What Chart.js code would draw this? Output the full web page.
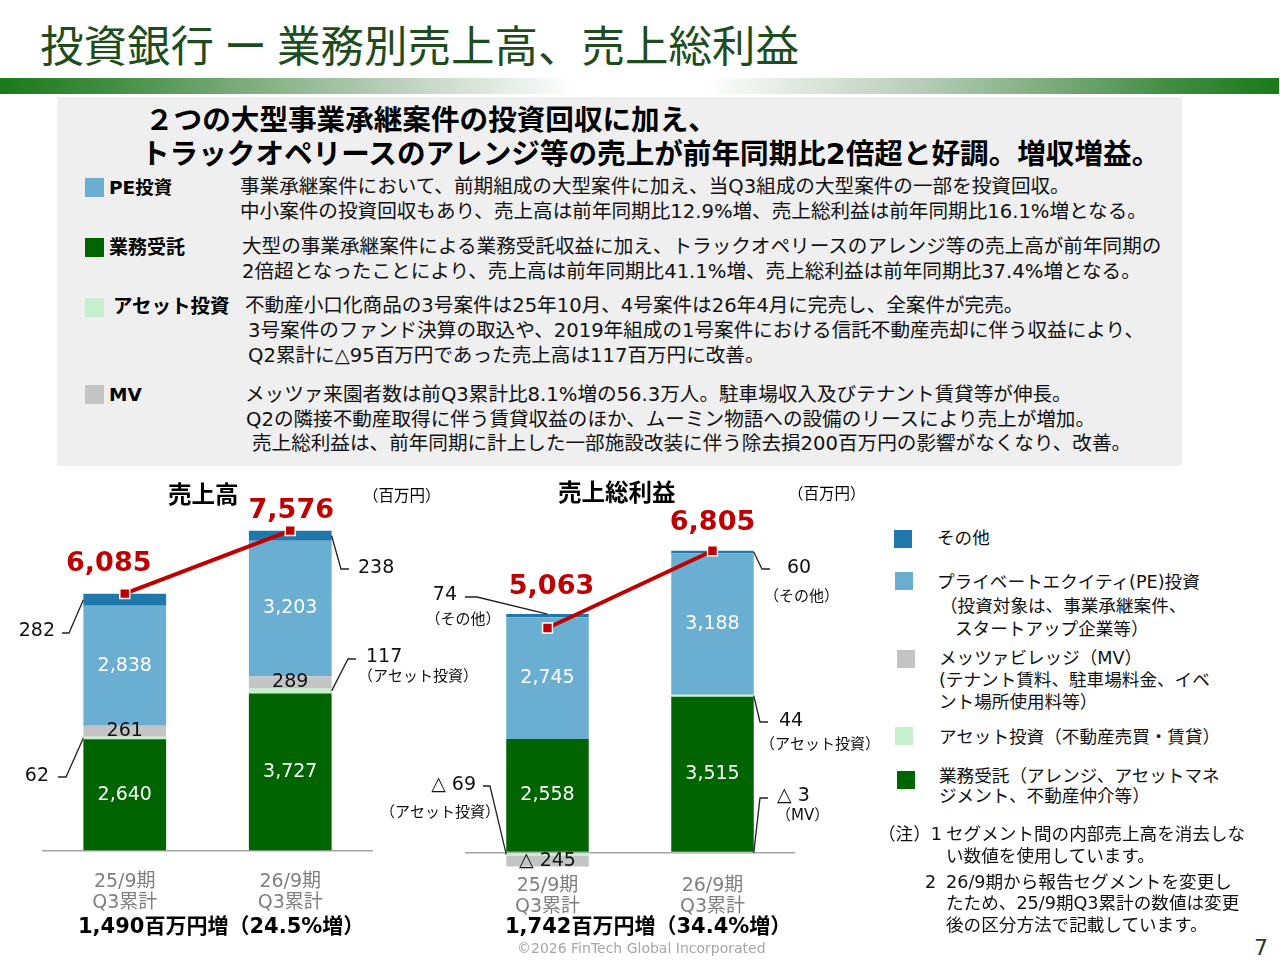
<!DOCTYPE html>
<html lang="ja">
<head>
<meta charset="utf-8">
<title>投資銀行 ー 業務別売上高、売上総利益</title>
<script src="https://cdn.jsdelivr.net/npm/chart.js@4.4.1/dist/chart.umd.min.js"></script>
<style>
  html, body { margin: 0; padding: 0; background: #fff; }
  #page { position: relative; width: 1280px; height: 960px; overflow: hidden;
    font-family: "DejaVu Sans", "Noto Sans CJK JP", sans-serif; color: #000; }
  .t { position: absolute; white-space: nowrap; }
  .b { font-weight: bold; }
  .body { font-size: 19.6px; line-height: 25px; color: #111; }
  .lg { font-size: 17.6px; line-height: 22px; color: #111; }
  .sq { position: absolute; width: 19px; height: 19px; }
  canvas { position: absolute; }
</style>
</head>
<body>
<div id="page">
  <!-- header -->
  <div class="t" style="left:40px; top:17px; font-size:43.5px; line-height:54px; color:#1d4d1d; font-family:'Noto Sans CJK JP',sans-serif;">投資銀行 ー 業務別売上高、売上総利益</div>
  <div style="position:absolute; left:0; top:78px; width:1279px; height:16px;
    background:linear-gradient(to right,#1a7a1a 0%,#3f8c3f 8%,#b7cdb7 30%,#ffffff 45%,#ffffff 55%,#b7cdb7 72%,#3f8c3f 92%,#1a7a1a 100%);"></div>

  <!-- summary panel -->
  <div style="position:absolute; left:57px; top:97px; width:1125px; height:369px; background:#efefef;"></div>
  <div class="t b" style="left:145px; top:101px; font-size:28.6px; line-height:38px;">２つの大型事業承継案件の投資回収に加え、</div>
  <div class="t b" style="left:141px; top:135px; font-size:28.6px; line-height:38px;">トラックオペリースのアレンジ等の売上が前年同期比2倍超と好調。増収増益。</div>

  <div class="sq" style="left:85px; top:178px; background:#6aafd2;"></div>
  <div class="t b" style="left:109px; top:175px; font-size:18.5px; line-height:25px;">PE投資</div>
  <div class="t body" style="left:240px; top:174px;">事業承継案件において、前期組成の大型案件に加え、当Q3組成の大型案件の一部を投資回収。</div>
  <div class="t body" style="left:240px; top:199px;">中小案件の投資回収もあり、売上高は前年同期比12.9%増、売上総利益は前年同期比16.1%増となる。</div>

  <div class="sq" style="left:85px; top:238px; background:#006400;"></div>
  <div class="t b" style="left:109px; top:235px; font-size:19px; line-height:25px;">業務受託</div>
  <div class="t body" style="left:242px; top:234px;">大型の事業承継案件による業務受託収益に加え、トラックオペリースのアレンジ等の売上高が前年同期の</div>
  <div class="t body" style="left:242px; top:259px;">2倍超となったことにより、売上高は前年同期比41.1%増、売上総利益は前年同期比37.4%増となる。</div>

  <div class="sq" style="left:85px; top:298px; background:#c6efce;"></div>
  <div class="t b" style="left:113px; top:294px; font-size:19.5px; line-height:25px;">アセット投資</div>
  <div class="t body" style="left:245px; top:293px;">不動産小口化商品の3号案件は25年10月、4号案件は26年4月に完売し、全案件が完売。</div>
  <div class="t body" style="left:248px; top:318px;">3号案件のファンド決算の取込や、2019年組成の1号案件における信託不動産売却に伴う収益により、</div>
  <div class="t body" style="left:248px; top:343px;">Q2累計に△95百万円であった売上高は117百万円に改善。</div>

  <div class="sq" style="left:85px; top:385px; background:#c4c4c4;"></div>
  <div class="t b" style="left:109px; top:382px; font-size:18.5px; line-height:25px;">MV</div>
  <div class="t body" style="left:245px; top:382px;">メッツァ来園者数は前Q3累計比8.1%増の56.3万人。駐車場収入及びテナント賃貸等が伸長。</div>
  <div class="t body" style="left:246px; top:407px;">Q2の隣接不動産取得に伴う賃貸収益のほか、ムーミン物語への設備のリースにより売上が増加。</div>
  <div class="t body" style="left:252px; top:431px;">売上総利益は、前年同期に計上した一部施設改装に伴う除去損200百万円の影響がなくなり、改善。</div>

  <!-- charts -->
  <canvas id="salesChart" width="470" height="441" style="left:0; top:480px;"></canvas>
  <canvas id="profitChart" width="500" height="438" style="left:380px; top:480px;"></canvas>

  <div class="t b" style="left:168px; top:480px; font-size:23.5px; line-height:30px;">売上高</div>
  <div class="t" style="left:363px; top:485px; font-size:15.5px; line-height:22px;">（百万円）</div>
  <div class="t b" style="left:558px; top:478px; font-size:23.5px; line-height:30px;">売上総利益</div>
  <div class="t" style="left:788px; top:483px; font-size:15.5px; line-height:22px;">（百万円）</div>

  <div class="t b" style="left:78px; top:912px; font-size:21px; line-height:28px;">1,490百万円増（24.5%増）</div>
  <div class="t b" style="left:505px; top:912px; font-size:21px; line-height:28px;">1,742百万円増（34.4%増）</div>
  <div class="t" style="left:517px; top:939px; font-size:14px; line-height:18px; color:#a6a6a6;">©2026 FinTech Global Incorporated</div>
  <div class="t" style="left:1254px; top:935px; font-size:22px; line-height:26px; color:#333;">7</div>

  <!-- legend -->
  <div class="sq" style="left:894px; top:530px; width:18px; height:18px; background:#1f77ab;"></div>
  <div class="t lg" style="left:937px; top:527px;">その他</div>
  <div class="sq" style="left:895px; top:572px; width:18px; height:18px; background:#6aafd2;"></div>
  <div class="t lg" style="left:937px; top:571px;">プライベートエクイティ(PE)投資</div>
  <div class="t lg" style="left:940px; top:595px;">（投資対象は、事業承継案件、</div>
  <div class="t lg" style="left:955px; top:618px;">スタートアップ企業等）</div>
  <div class="sq" style="left:897px; top:650px; width:18px; height:18px; background:#c4c4c4;"></div>
  <div class="t lg" style="left:939px; top:647px;">メッツァビレッジ（MV）</div>
  <div class="t lg" style="left:939px; top:669px;">(テナント賃料、駐車場料金、イベ</div>
  <div class="t lg" style="left:939px; top:691px;">ント場所使用料等）</div>
  <div class="sq" style="left:895px; top:727px; width:18px; height:18px; background:#c6efce;"></div>
  <div class="t lg" style="left:939px; top:726px;">アセット投資（不動産売買・賃貸）</div>
  <div class="sq" style="left:897px; top:771px; width:18px; height:18px; background:#006400;"></div>
  <div class="t lg" style="left:939px; top:765px;">業務受託（アレンジ、アセットマネ</div>
  <div class="t lg" style="left:939px; top:785px;">ジメント、不動産仲介等）</div>

  <div class="t lg" style="left:878px; top:823px;">（注）1</div>
  <div class="t lg" style="left:946px; top:823px;">セグメント間の内部売上高を消去しな</div>
  <div class="t lg" style="left:946px; top:845px;">い数値を使用しています。</div>
  <div class="t lg" style="left:925px; top:871px;">2</div>
  <div class="t lg" style="left:946px; top:871px;">26/9期から報告セグメントを変更し</div>
  <div class="t lg" style="left:946px; top:892px;">たため、25/9期Q3累計の数値は変更</div>
  <div class="t lg" style="left:946px; top:914px;">後の区分方法で記載しています。</div>
</div>

<script>
"use strict";

//--------------------DATA

// x categories (two lines each)
const periods = [["25/9期", "Q3累計"], ["26/9期", "Q3累計"]];

// segment names and colours, bottom to top
const segNames = ["業務受託", "アセット投資", "MV", "PE投資", "その他"];
const segColors = ["#006400", "#c6efce", "#c4c4c4", "#6aafd2", "#1f77ab"];

// 売上高 (百万円)
const salesBiz = [2640, 3727];
const salesAsset = [62, 117];
const salesMV = [261, 289];
const salesPE = [2838, 3203];
const salesOther = [282, 238];
const salesTotal = [6085, 7576];

// 売上総利益 (百万円)
const profitBiz = [2558, 3515];
const profitAsset = [-69, 44];
const profitMV = [-245, -3];
const profitPE = [2745, 3188];
const profitOther = [74, 60];
const profitTotal = [5063, 6805];

const FONT = '"DejaVu Sans", "Noto Sans CJK JP", sans-serif';

//--------------------HELPERS

// 1234 -> "1,234", -245 -> "△ 245"
function fmt(v) {
  if (v < 0) return "△ " + Math.abs(v).toLocaleString("en-US");
  return v.toLocaleString("en-US");
}

// segment labels, totals and leader-line callouts
const segLabels = {
  id: "segLabels",
  afterDatasetsDraw(chart, args, opts) {
    const ctx = chart.ctx;
    ctx.save();
    ctx.textBaseline = "middle";

    // values inside the bars
    ctx.font = "19px " + FONT;
    ctx.textAlign = "center";
    opts.inner.forEach(function (l) {
      const el = chart.getDatasetMeta(l.ds).data[l.idx];
      ctx.fillStyle = l.color;
      ctx.fillText(fmt(chart.data.datasets[l.ds].data[l.idx]), el.x, (el.y + el.base) / 2);
    });

    // totals above the red line points
    const lineIdx = chart.data.datasets.length - 1;
    const points = chart.getDatasetMeta(lineIdx).data;
    ctx.font = "bold 27px " + FONT;
    ctx.fillStyle = "#c00000";
    points.forEach(function (p, i) {
      const off = opts.totalOffsets[i];
      ctx.fillText(fmt(chart.data.datasets[lineIdx].data[i]), p.x + off[0], p.y + off[1]);
    });

    // callouts with leader lines (positions given in page coordinates)
    ctx.strokeStyle = "#222";
    ctx.lineWidth = 1.3;
    opts.callouts.forEach(function (c) {
      const el = chart.getDatasetMeta(c.ds).data[c.idx];
      let ax = el.x;
      if (c.side === "left") ax = el.x - el.width / 2;
      if (c.side === "right") ax = el.x + el.width / 2;
      let ay = (el.y + el.base) / 2;
      if (c.at === "top") ay = Math.min(el.y, el.base);
      if (c.at === "base") ay = el.base;
      ctx.beginPath();
      ctx.moveTo(ax, ay);
      ctx.lineTo(c.elbow[0] - opts.ox, c.elbow[1] - opts.oy);
      ctx.lineTo(c.end[0] - opts.ox, c.end[1] - opts.oy);
      ctx.stroke();

      ctx.fillStyle = "#111";
      ctx.font = "19px " + FONT;
      ctx.textAlign = c.text[2];
      ctx.fillText(fmt(chart.data.datasets[c.ds].data[c.idx]), c.text[0] - opts.ox, c.text[1] - opts.oy);
      if (c.sub) {
        ctx.font = "15px " + FONT;
        ctx.textAlign = c.sub[3];
        ctx.fillText(c.sub[0], c.sub[1] - opts.ox, c.sub[2] - opts.oy);
      }
    });
    ctx.restore();
  }
};

function buildDatasets(segments, totals) {
  const sets = segments.map(function (data, i) {
    return {
      type: "bar",
      label: segNames[i],
      data: data,
      backgroundColor: segColors[i],
      borderWidth: 0,
      barPercentage: 1,
      categoryPercentage: 0.5,
      order: 1
    };
  });
  sets.push({
    type: "line",
    label: "合計",
    data: totals,
    stack: "total",
    borderColor: "#c00000",
    borderWidth: 4,
    pointStyle: "rect",
    pointRadius: 7,
    pointBackgroundColor: "#c00000",
    pointBorderColor: "#ffffff",
    pointBorderWidth: 1.5,
    order: 0
  });
  return sets;
}

function buildOptions(pad, yMin, yMax, axisH, tickPad, labelOpts) {
  return {
    responsive: false,
    animation: false,
    layout: { padding: { left: pad[0], right: pad[1], top: 20, bottom: 0 } },
    plugins: {
      legend: { display: false },
      tooltip: { enabled: false },
      segLabels: labelOpts
    },
    scales: {
      x: {
        stacked: true,
        grid: { display: false },
        border: { display: false },
        ticks: {
          color: "#7f7f7f",
          padding: tickPad,
          maxRotation: 0,
          autoSkip: false,
          font: { size: 19, family: FONT, lineHeight: 1.1 }
        },
        afterFit: function (s) { s.height = axisH; }
      },
      y: {
        stacked: true,
        min: yMin,
        max: yMax,
        ticks: { display: false },
        border: { display: false },
        grid: { color: "#a6a6a6", lineWidth: 1.5, drawTicks: false },
        afterBuildTicks: function (s) { s.ticks = [{ value: 0 }]; }
      }
    }
  };
}

//--------------------CHARTS

// 売上高
new Chart(document.getElementById("salesChart"), {
  data: {
    labels: periods,
    datasets: buildDatasets([salesBiz, salesAsset, salesMV, salesPE, salesOther], salesTotal)
  },
  options: buildOptions([42, 97], 0, 8300, 70, 13, {
    ox: 0, oy: 480,
    inner: [
      { ds: 0, idx: 0, color: "#fff" }, { ds: 0, idx: 1, color: "#fff" },
      { ds: 2, idx: 0, color: "#111" }, { ds: 2, idx: 1, color: "#111" },
      { ds: 3, idx: 0, color: "#fff" }, { ds: 3, idx: 1, color: "#fff" }
    ],
    totalOffsets: [[-16, -30], [1, -20]],
    callouts: [
      { ds: 4, idx: 0, side: "left", at: "mid", elbow: [69, 633], end: [62, 633], text: [55, 631, "right"] },
      { ds: 1, idx: 0, side: "left", at: "mid", elbow: [66, 777], end: [58, 777], text: [49, 776, "right"] },
      { ds: 4, idx: 1, side: "right", at: "mid", elbow: [341, 569], end: [349, 569], text: [358, 568, "left"] },
      { ds: 1, idx: 1, side: "right", at: "mid", elbow: [348, 659], end: [356, 659], text: [366, 657, "left"],
        sub: ["（アセット投資）", 358, 677, "left"] }
    ]
  }),
  plugins: [segLabels]
});

// 売上総利益
new Chart(document.getElementById("profitChart"), {
  data: {
    labels: periods,
    datasets: buildDatasets([profitBiz, profitAsset, profitMV, profitPE, profitOther], profitTotal)
  },
  options: buildOptions([85, 85], -350, 7950, 50, 0, {
    ox: 380, oy: 480,
    inner: [
      { ds: 0, idx: 0, color: "#fff" }, { ds: 0, idx: 1, color: "#fff" },
      { ds: 2, idx: 0, color: "#111" },
      { ds: 3, idx: 0, color: "#fff" }, { ds: 3, idx: 1, color: "#fff" }
    ],
    totalOffsets: [[4, -41], [0, -28]],
    callouts: [
      { ds: 4, idx: 0, side: "center", at: "top", elbow: [477, 597], end: [465, 597], text: [457, 595, "right"],
        sub: ["（その他）", 463, 620, "center"] },
      { ds: 4, idx: 1, side: "right", at: "mid", elbow: [762, 569], end: [770, 569], text: [787, 568, "left"],
        sub: ["（その他）", 764, 597, "left"] },
      { ds: 1, idx: 1, side: "right", at: "mid", elbow: [760, 722], end: [768, 722], text: [779, 721, "left"],
        sub: ["（アセット投資）", 760, 745, "left"] },
      { ds: 2, idx: 1, side: "right", at: "mid", elbow: [760, 798], end: [768, 798], text: [777, 796, "left"],
        sub: ["（MV）", 776, 816, "left"] },
      { ds: 1, idx: 0, side: "left", at: "mid", elbow: [490, 786], end: [483, 786], text: [476, 785, "right"],
        sub: ["（アセット投資）", 440, 813, "center"] }
    ]
  }),
  plugins: [segLabels]
});
</script>
</body>
</html>
